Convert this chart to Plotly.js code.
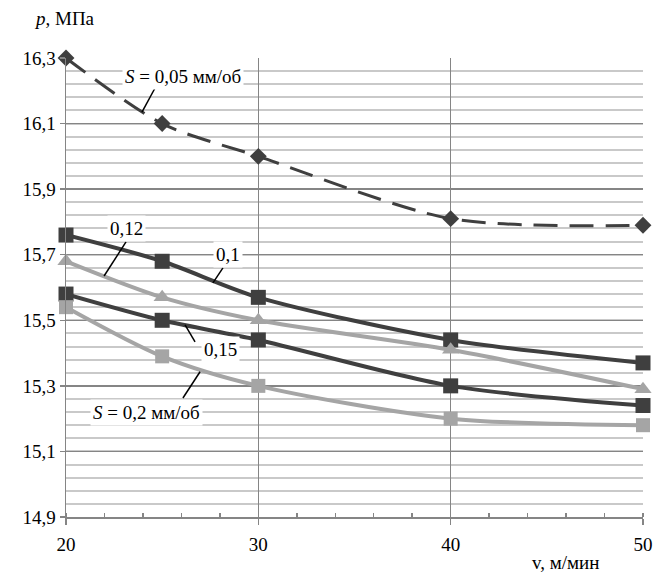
<!DOCTYPE html>
<html><head><meta charset="utf-8">
<script src="https://cdn.plot.ly/plotly-3.0.1.min.js"></script>
</head><body style="margin:0;background:#fff"><div id="c" style="width:656px;height:573px"></div>
<script>
const speeds = [20, 25, 30, 40, 50];
const p005 = [16.30, 16.10, 16.00, 15.81, 15.79];
const p010 = [15.76, 15.68, 15.57, 15.44, 15.37];
const p012 = [15.68, 15.57, 15.50, 15.41, 15.29];
const p015 = [15.58, 15.50, 15.44, 15.30, 15.24];
const p020 = [15.54, 15.39, 15.30, 15.20, 15.18];
const xTicks = [20, 30, 40, 50];
const yTicks = [14.9, 15.1, 15.3, 15.5, 15.7, 15.9, 16.1, 16.3];
const yTickText = ["14,9", "15,1", "15,3", "15,5", "15,7", "15,9", "16,1", "16,3"];

const dark = '#3f3f3f', light = '#a5a5a5';
const FONT = 'Liberation Serif';

function tr(y, color, sym, size, dash, w) {
  return {x: speeds, y: y, type: 'scatter', mode: 'lines+markers',
    line: {color: color, width: w || 4, shape: 'spline', smoothing: 0.8, dash: dash || 'solid'},
    marker: {symbol: sym, size: size, color: color}, cliponaxis: false, hoverinfo: 'none'};
}
const data = [
  tr(p005, dark, 'diamond', 13, '24px,12px', 3),
  tr(p010, dark, 'square', 15),
  tr(p012, light, 'triangle-up', 15),
  tr(p015, dark, 'square', 15),
  tr(p020, light, 'square', 14)
];

function lbl(x, y, text) {
  return {x: x, y: y, xref: 'x', yref: 'y', text: text, showarrow: false,
    bgcolor: '#ffffff', borderpad: 2, font: {family: FONT, size: 19, color: '#000'}};
}
function lead(x0, y0, x1, y1) {
  return {type: 'line', xref: 'x', yref: 'y', x0: x0, y0: y0, x1: x1, y1: y1,
    line: {color: '#000', width: 1.5}, layer: 'above'};
}

const layout = {
  width: 656, height: 573,
  margin: {l: 66, r: 13, t: 58, b: 56},
  paper_bgcolor: '#fff', plot_bgcolor: '#fff',
  showlegend: false,
  font: {family: FONT, size: 19, color: '#000'},
  xaxis: {range: [20, 50], tickvals: xTicks, ticktext: xTicks.map(String),
    showgrid: true, gridcolor: '#858585', gridwidth: 1.5,
    showline: true, linecolor: '#858585', linewidth: 1.5,
    ticks: 'outside', ticklen: 6, tickcolor: '#858585', tickwidth: 1.5,
    ticklabelstandoff: 4, zeroline: false,
    minor: {dtick: 2, tick0: 20, ticks: 'inside', ticklen: 4, tickcolor: '#858585', tickwidth: 1.5, showgrid: false},
    tickfont: {family: FONT, size: 19, color: '#000'}},
  yaxis: {range: [14.9, 16.3], tickvals: yTicks, ticktext: yTickText,
    showgrid: true, gridcolor: '#858585', gridwidth: 1.5,
    showline: true, linecolor: '#858585', linewidth: 1.5,
    ticks: 'outside', ticklen: 5, tickcolor: '#858585', tickwidth: 1.5, zeroline: false,
    minor: {dtick: 0.04, tick0: 14.9, showgrid: true, gridcolor: '#c9c9c9', gridwidth: 2, ticks: ''},
    tickfont: {family: FONT, size: 19, color: '#000'}},
  annotations: [
    lbl(26.06, 16.245, '<i>S</i> = 0,05 мм/об'),
    lbl(23.17, 15.779, '0,12'),
    lbl(28.42, 15.70, '0,1'),
    lbl(28.01, 15.41, '0,15'),
    lbl(24.16, 15.218, '<i>S</i> = 0,2 мм/об'),
    {xref: 'paper', yref: 'paper', x: 0, y: 1, xshift: -34, yshift: 40, xanchor: 'left', yanchor: 'middle',
     text: '<i>p</i>, МПа', showarrow: false, font: {family: FONT, size: 19, color: '#000'}},
    {xref: 'paper', yref: 'paper', x: 1, y: 0, xshift: -78, yshift: -45, xanchor: 'center', yanchor: 'middle',
     text: 'v, м/мин', showarrow: false, font: {family: FONT, size: 19, color: '#000'}}
  ],
  shapes: [
    lead(24.63, 16.2085, 23.95, 16.135),
    lead(23.12, 15.739, 21.98, 15.635),
    lead(28.16, 15.66, 27.64, 15.614),
    lead(26.19, 15.486, 26.71, 15.434),
    lead(26.08, 15.263, 26.97, 15.343)
  ]
};
Plotly.newPlot('c', data, layout, {staticPlot: true});
</script></body></html>
